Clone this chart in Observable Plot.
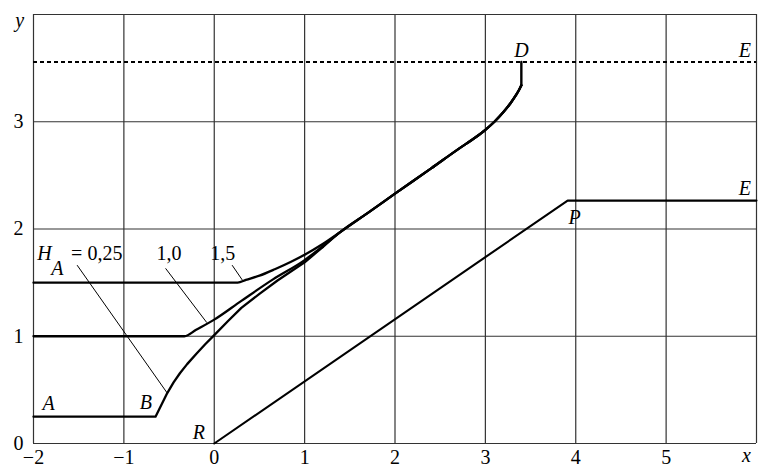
<!DOCTYPE html>
<html><head><meta charset="utf-8">
<script src="https://cdn.jsdelivr.net/npm/d3@7"></script>
<script src="https://cdn.jsdelivr.net/npm/@observablehq/plot@0.6"></script>
<style>
body{margin:0;background:#fff}
svg, svg text{font-family:"Liberation Serif",serif !important}
</style>
</head><body><div id="chart"></div>
<script>
// axis ticks and grid
const xTicks = [-2, -1, 0, 1, 2, 3, 4, 5];
const xGrid = [-2, -1, 0, 1, 2, 3, 4, 5, 6];
const yTicks = [0, 1, 2, 3];
const yGrid = [0, 1, 2, 3, 4];

// trajectories for H_A = 0.25, 1.0, 1.5 (own part, until they merge)
const curveH025 = [[-2,0.25],[-0.65,0.25],[-0.52,0.47],[-0.45,0.57],[-0.38,0.655],[-0.3,0.74],[-0.2,0.835],[-0.1,0.925],[0,1.01],[0.15,1.14],[0.3,1.265],[0.5,1.395],[0.7,1.52],[1,1.69],[1.2,1.83]];
const curveH10 = [[-2,1],[-0.33,1],[-0.2,1.06],[0,1.155],[0.3,1.33],[0.65,1.53],[1,1.71],[1.2,1.84]];
const curveH15 = [[-2,1.5],[0.26,1.5],[0.35,1.525],[0.5,1.565],[0.67,1.625],[0.85,1.695],[1,1.76],[1.2,1.86]];
// common branch up to D
const curveMain = [[1.4,1.975],[1.7,2.15],[2,2.33],[2.4,2.565],[2.7,2.745],[2.9,2.86],[3,2.925],[3.1,3.0],[3.2,3.09],[3.28,3.175],[3.34,3.25],[3.375,3.3],[3.398,3.34]];
const segmentD = [[3.398,3.34],[3.398,3.557]];
// line R - P - E
const lineRPE = [[0,0],[3.91,2.265],[6,2.265]];
// dotted asymptote level
const levelE = [3.557];
// thin leader lines from labels to curves
const leaders = [
  [[-1.515,1.66],[-0.52,0.47]],
  [[-0.536,1.63],[-0.085,1.13]],
  [[0.2,1.66],[0.31,1.525]]
];
// text labels
const italicLabels = [
  {x:3.4, y:3.664, t:"D"},
  {x:5.87, y:3.664, t:"E"},
  {x:5.87, y:2.378, t:"E"},
  {x:3.987, y:2.11, t:"P"},
  {x:-0.17, y:0.105, t:"R"},
  {x:-0.757, y:0.385, t:"B"},
  {x:-1.832, y:0.376, t:"A"},
  {x:-1.88, y:1.769, t:"H"},
  {x:-1.735, y:1.629, t:"A"},
  {x:5.89, y:-0.112, t:"x"},
  {x:-2.153, y:3.944, t:"y"}
];
const valueLabels = [
  {x:-1.30, y:1.77, t:"= 0,25"},
  {x:-0.5, y:1.77, t:"1,0"},
  {x:0.093, y:1.77, t:"1,5"}
];

const px = d => d[0], py = d => d[1];
const full = own => own.concat(curveMain);
const chart = Plot.plot({
  width: 764, height: 475,
  marginLeft: 33, marginTop: 14, marginRight: 8, marginBottom: 32,
  style: {fontSize: "20px", background: "#fff", color: "#000"},
  x: {domain: [-2, 6], ticks: xTicks, tickSize: 0, tickPadding: 6, label: null},
  y: {domain: [0, 4], ticks: yTicks, tickSize: 0, tickPadding: 10, label: null, tickFormat: d => String(d)},
  marks: [
    Plot.ruleX(xGrid, {stroke: "#333", strokeWidth: 1.2}),
    Plot.ruleY(yGrid, {stroke: "#333", strokeWidth: 1.2}),
    Plot.ruleY(levelE, {stroke: "#000", strokeWidth: 2, strokeDasharray: "4,3"}),
    ...leaders.map(l => Plot.line(l, {x: px, y: py, stroke: "#000", strokeWidth: 1})),
    Plot.line(curveH025, {x: px, y: py, stroke: "#000", strokeWidth: 2.3, curve: "linear"}),
    Plot.line(full([[1.2,1.83]]), {x: px, y: py, stroke: "#000", strokeWidth: 2.3, curve: "monotone-x"}),
    Plot.line(full(curveH10), {x: px, y: py, stroke: "#000", strokeWidth: 2.3, curve: "monotone-x"}),
    Plot.line(full(curveH15), {x: px, y: py, stroke: "#000", strokeWidth: 2.3, curve: "monotone-x"}),
    Plot.line(segmentD, {x: px, y: py, stroke: "#000", strokeWidth: 2.4}),
    Plot.line(lineRPE, {x: px, y: py, stroke: "#000", strokeWidth: 2.1}),
    Plot.text(italicLabels, {x: "x", y: "y", text: "t", fontStyle: "italic", fontSize: 20, fill: "#000"}),
    Plot.text(valueLabels, {x: "x", y: "y", text: "t", fontSize: 20, fill: "#000"})
  ]
});
chart.removeAttribute("font-family");
chart.style.setProperty("font-family", "'Liberation Serif', serif", "important");
chart.querySelectorAll("g, text").forEach(el => {
  el.removeAttribute("font-family");
  el.style.setProperty("font-family", "'Liberation Serif', serif", "important");
});
document.getElementById("chart").appendChild(chart);
</script>
</body></html>
